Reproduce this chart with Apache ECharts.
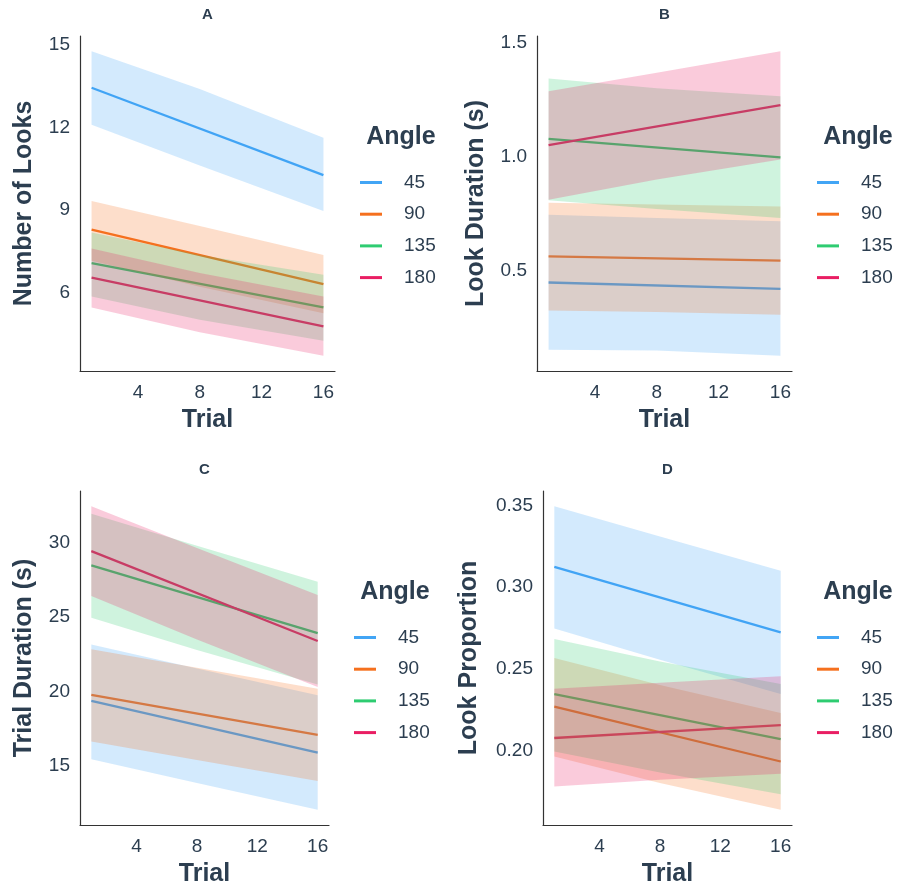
<!DOCTYPE html>
<html>
<head>
<meta charset="utf-8">
<script src="https://cdn.jsdelivr.net/npm/echarts@6/dist/echarts.min.js"></script>
<style>
  html, body { margin: 0; padding: 0; background: #fff; }
  #chart { width: 898px; height: 888px; }
</style>
</head>
<body>
<div id="chart"></div>
<script>
// trials where the fitted lines / ribbons are read
var TRIALS = [1, 16];
var RIB_TRIALS = [1, 8, 16];
var X_TICKS = [4, 8, 12, 16];
var ANGLES = ['45', '90', '135', '180'];
var COLORS = ['#42a5f5', '#f5701e', '#2ecc71', '#e91e63'];

// A : number of looks (rows = angle 45, 90, 135, 180)
var looksFit = [[13.45, 10.27], [8.28, 6.30], [7.06, 5.45], [6.54, 4.76]];
var looksLow = [[12.10, 10.62, 8.96], [7.15, 6.20, 5.24], [5.85, 5.00, 4.24], [5.45, 4.55, 3.69]];
var looksHigh = [[14.78, 13.40, 11.63], [9.33, 8.42, 7.36], [8.18, 7.36, 6.64], [7.60, 6.70, 5.85]];
var looksTicks = [6, 9, 12, 15];

// B : look duration (s)
var durFit = [[0.447, 0.419], [0.562, 0.543], [1.078, 0.997], [1.050, 1.226]];
var durLow = [[0.151, 0.148, 0.125], [0.324, 0.317, 0.305], [0.808, 0.770, 0.730], [0.810, 0.899, 0.987]];
var durHigh = [[0.745, 0.730, 0.716], [0.797, 0.790, 0.781], [1.343, 1.300, 1.265], [1.287, 1.368, 1.463]];
var durTicks = [0.5, 1.0, 1.5];

// C : trial duration (s)
var trialFit = [[19.37, 15.90], [19.77, 17.08], [28.48, 23.93], [29.44, 23.40]];
var trialLow = [[15.45, 13.85, 12.05], [16.64, 15.40, 13.99], [24.96, 22.80, 20.48], [26.42, 23.50, 20.31]];
var trialHigh = [[23.17, 21.55, 19.75], [22.84, 21.60, 20.19], [31.95, 29.80, 27.38], [32.46, 29.65, 26.49]];
var trialTicks = [15, 20, 25, 30];

// D : look proportion
var propFit = [[0.3124, 0.2723], [0.2268, 0.1932], [0.2345, 0.2069], [0.2076, 0.2155]];
var propLow = [[0.2746, 0.2555, 0.2345], [0.1963, 0.1800, 0.1636], [0.1994, 0.1865, 0.1732], [0.1779, 0.1820, 0.1857]];
var propHigh = [[0.3496, 0.3310, 0.3101], [0.2566, 0.2400, 0.2229], [0.2683, 0.2545, 0.2406], [0.2378, 0.2415, 0.2454]];
var propTicks = [0.20, 0.25, 0.30, 0.35];

var TXT = '#2c3e50';
var FONT = '"Liberation Sans", Arial, sans-serif';

var panels = [
  {letter: 'A', yName: 'Number of Looks', fit: looksFit, low: looksLow, high: looksHigh, ticks: looksTicks, dec: 0,
   left: 80, top: 36, width: 255, nameGap: 43, legX: 360},
  {letter: 'B', yName: 'Look Duration (s)', fit: durFit, low: durLow, high: durHigh, ticks: durTicks, dec: 1,
   left: 537, top: 36, width: 255, nameGap: 48, legX: 817},
  {letter: 'C', yName: 'Trial Duration (s)', fit: trialFit, low: trialLow, high: trialHigh, ticks: trialTicks, dec: 0,
   left: 80, top: 491, width: 249, nameGap: 43, legX: 354},
  {letter: 'D', yName: 'Look Proportion', fit: propFit, low: propLow, high: propHigh, ticks: propTicks, dec: 2,
   left: 543, top: 491, width: 249, nameGap: 61, legX: 817}
];
var PLOT_H = 335;

// ggplot style 5% expansion
function range(low, high) {
  var lo = Math.min.apply(null, low.map(function (r) { return Math.min.apply(null, r); }));
  var hi = Math.max.apply(null, high.map(function (r) { return Math.max.apply(null, r); }));
  var pad = (hi - lo) * 0.05;
  return [lo - pad, hi + pad];
}

// ribbon: one polygon through all (trial, low) then back along (trial, high)
function ribbonItem(params, api) {
  if (params.dataIndexInside !== 0) return null;
  var n = params.dataInsideLength, top = [], bottom = [];
  for (var k = 0; k < n; k++) {
    var t = api.value(0, k);
    bottom.push(api.coord([t, api.value(1, k)]));
    top.unshift(api.coord([t, api.value(2, k)]));
  }
  return {
    type: 'polygon',
    shape: {points: bottom.concat(top)},
    style: {fill: api.visual('color'), opacity: 0.23}
  };
}

var grids = [], xAxes = [], yAxes = [], series = [], legends = [], graphics = [];

panels.forEach(function (p, i) {
  grids.push({left: p.left, top: p.top, width: p.width, height: PLOT_H});

  xAxes.push({
    type: 'value', gridIndex: i, min: 0.25, max: 16.75,
    name: 'Trial', nameLocation: 'middle', nameGap: 37,
    nameTextStyle: {fontSize: 25, fontWeight: 'bold', color: TXT, fontFamily: FONT},
    axisLine: {onZero: false, lineStyle: {color: '#333', width: 1.2}},
    axisTick: {show: false},
    splitLine: {show: false},
    axisLabel: {customValues: X_TICKS, fontSize: 19, color: TXT, fontFamily: FONT, margin: 12}
  });

  var r = range(p.low, p.high);
  yAxes.push({
    type: 'value', gridIndex: i, min: r[0], max: r[1],
    name: p.yName, nameLocation: 'middle', nameGap: p.nameGap,
    nameTextStyle: {fontSize: 25, fontWeight: 'bold', color: TXT, fontFamily: FONT},
    axisLine: {show: true, onZero: false, lineStyle: {color: '#333', width: 1.2}},
    axisTick: {show: false},
    splitLine: {show: false},
    axisLabel: {
      customValues: p.ticks, fontSize: 19, color: TXT, fontFamily: FONT, margin: 10,
      formatter: (function (d) { return function (v) { return v.toFixed(d); }; })(p.dec)
    }
  });

  ANGLES.forEach(function (a, j) {
    series.push({
      type: 'line', name: a, xAxisIndex: i, yAxisIndex: i,
      data: TRIALS.map(function (t, k) { return [t, p.fit[j][k]]; }),
      color: COLORS[j], symbol: 'none', lineStyle: {width: 2.3}, z: 2, silent: true
    });
    series.push({
      type: 'custom', name: 'band ' + a, xAxisIndex: i, yAxisIndex: i,
      color: COLORS[j], z: 3, silent: true,
      encode: {x: 0, y: [1, 2]},
      data: RIB_TRIALS.map(function (t, k) { return [t, p.low[j][k], p.high[j][k]]; }),
      renderItem: ribbonItem
    });
  });

  legends.push({
    orient: 'vertical', left: p.legX, top: p.top + 137, padding: 0,
    data: ANGLES, icon: 'rect', itemWidth: 22, itemHeight: 3, itemGap: 12.7,
    selectedMode: false,
    textStyle: {fontSize: 19, color: TXT, fontFamily: FONT, lineHeight: 18, padding: [0, 0, 0, 17]}
  });

  graphics.push({
    type: 'text', x: p.left + p.width / 2, y: p.top - 21,
    style: {text: p.letter, font: 'bold 15px ' + FONT, fill: TXT,
            textAlign: 'center', textVerticalAlign: 'middle'}
  });
  graphics.push({
    type: 'text', x: p.legX + 41, y: p.top + 101,
    style: {text: 'Angle', font: 'bold 25px ' + FONT, fill: TXT,
            textAlign: 'center', textVerticalAlign: 'middle'}
  });
});

var chart = echarts.init(document.getElementById('chart'));
chart.setOption({
  animation: false,
  backgroundColor: '#fff',
  grid: grids,
  xAxis: xAxes,
  yAxis: yAxes,
  legend: legends,
  graphic: graphics,
  series: series
});
</script>
</body>
</html>
